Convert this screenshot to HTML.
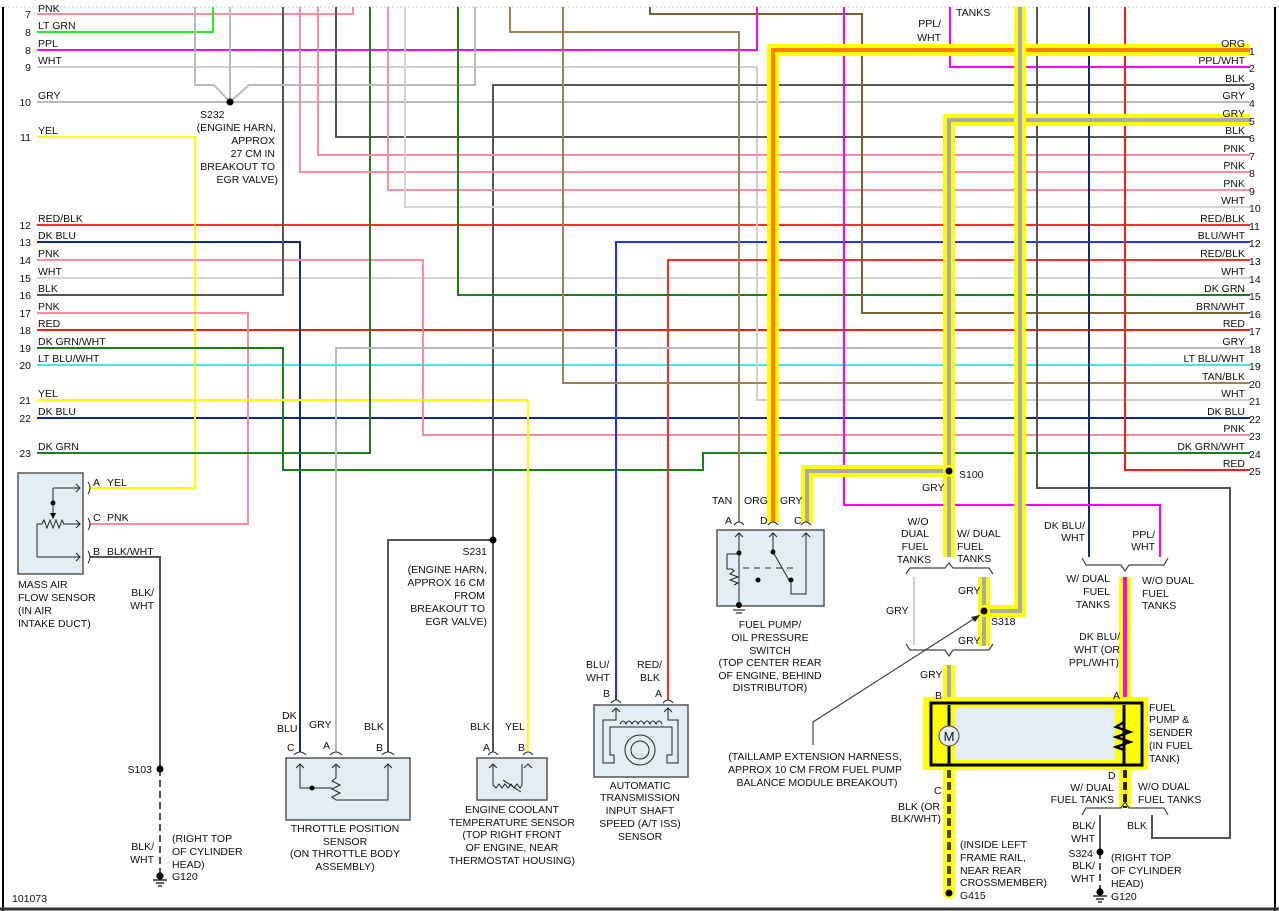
<!DOCTYPE html>
<html><head><meta charset="utf-8"><style>
html,body{margin:0;padding:0;background:#fff;}
svg{display:block;}
text{font-family:"Liberation Sans",sans-serif;font-size:10.5px;fill:#111;}
.e{text-anchor:end}.m{text-anchor:middle}
</style></head><body>
<svg width="1279" height="911" viewBox="0 0 1279 911" xmlns="http://www.w3.org/2000/svg">
<rect width="1279" height="911" fill="#fff"/>
<line x1="0" y1="7" x2="1279" y2="7" stroke="#ccc" stroke-dasharray="2,2"/>
<line x1="3" y1="7" x2="3" y2="911" stroke="#000" stroke-width="2"/>
<line x1="1275" y1="7" x2="1275" y2="911" stroke="#000" stroke-width="2"/>
<line x1="0" y1="909" x2="1279" y2="909" stroke="#333" stroke-width="3"/>
<g fill="none" stroke-width="2">
<path d="M37 102H1250" stroke="#bbb"/>
<path d="M37 225H1250" stroke="#ff2a2a"/>
<path d="M37 278H1250" stroke="#d4d4d4"/>
<path d="M37 330H1250" stroke="#ff1a1a"/>
<path d="M37 365H1250" stroke="#40e8f0"/>
<path d="M37 418H1250" stroke="#102a80"/>
<path d="M37 14H353V7" stroke="#f98ca0"/>
<path d="M37 32H213V7" stroke="#22ee22"/>
<path d="M37 50H757V7" stroke="#ff00ff"/>
<path d="M37 67H757V400H1250" stroke="#d0d0d0"/>
<path d="M37 137H195V488H90" stroke="#ffff00"/>
<path d="M37 242H300V752" stroke="#102a80"/>
<path d="M37 260H423V435H1250" stroke="#f98ca0"/>
<path d="M37 295H283V7" stroke="#555"/>
<path d="M37 313H248V524H90" stroke="#f98ca0"/>
<path d="M37 348H283V470H703V453H1250" stroke="#1a801a"/>
<path d="M37 400H528V752" stroke="#ffff00"/>
<path d="M37 453H370V7" stroke="#1a801a"/>
<path d="M195 7V85H214L230 102" stroke="#bbb"/>
<path d="M230 7V102" stroke="#bbb"/>
<path d="M230 102L249 85H475V7" stroke="#bbb"/>
<path d="M950 7V67H1250" stroke="#ff00ff"/>
<path d="M493 752V85H1250" stroke="#555"/>
<path d="M336 7V137H1250" stroke="#555"/>
<path d="M318 7V155H1250" stroke="#f98ca0"/>
<path d="M300 7V172H1250" stroke="#f98ca0"/>
<path d="M388 7V190H1250" stroke="#f98ca0"/>
<path d="M405 7V207H1250" stroke="#d4d4d4"/>
<path d="M616 700V242H1250" stroke="#2030ff"/>
<path d="M668 700V260H1250" stroke="#ff2a2a"/>
<path d="M458 7V295H1250" stroke="#1a801a"/>
<path d="M650 7V14H862V313H1250" stroke="#806030"/>
<path d="M336 752V348H1250" stroke="#bbb"/>
<path d="M563 7V383H1250" stroke="#a08050"/>
<path d="M510 7V32H739V522" stroke="#a08050"/>
<path d="M1125 7V470H1250" stroke="#ff1a1a"/>
<path d="M1037 7V488H1230V838H1152V815" stroke="#555"/>
<path d="M1089 7V557" stroke="#102a80"/>
<path d="M844 7V505H1160V557" stroke="#ff00ff"/>
<path d="M90 557H160V769" stroke="#555"/>
<path d="M160 769V875" stroke="#555" stroke-dasharray="7,4"/>
<path d="M493 540H388V752" stroke="#555"/>
<path d="M914 577V645" stroke="#ccc"/>
<path d="M1100 815V850" stroke="#555"/>
<path d="M1100 852V890" stroke="#555" stroke-dasharray="7,4"/>
</g>
<g fill="none">
<path d="M773 522V50H1250" stroke="#ffff00" stroke-width="12"/>
<path d="M773 522V50H1250" stroke="#ff8000" stroke-width="4"/>
<path d="M1250 120H949V557M949 471H807V522" stroke="#ffff00" stroke-width="12"/>
<path d="M1250 120H949V557M949 471H807V522" stroke="#aaa" stroke-width="4"/>
<path d="M1020 7V611H984" stroke="#ffff00" stroke-width="12"/>
<path d="M1020 7V611H984" stroke="#aaa" stroke-width="4"/>
<path d="M984 577V646" stroke="#ffff00" stroke-width="12"/>
<path d="M984 577V646" stroke="#aaa" stroke-width="4"/>
<path d="M949 665V700" stroke="#ffff00" stroke-width="12"/>
<path d="M949 665V700" stroke="#aaa" stroke-width="4"/>
<path d="M1125 577V700" stroke="#ffff00" stroke-width="12"/>
<path d="M1125 577V700" stroke="#ff00ff" stroke-width="4"/>
<path d="M949 770V893" stroke="#ffff00" stroke-width="12"/>
<path d="M949 770V893" stroke="#444" stroke-width="4" stroke-dasharray="8,4"/>
<path d="M1125 770V808" stroke="#ffff00" stroke-width="12"/>
<path d="M1125 770V808" stroke="#222" stroke-width="4" stroke-dasharray="8,4"/>
</g>
<g fill="none" stroke="#444" stroke-width="1.2">
<path d="M906 574L910 568H945L949 563L953 568H989L993 574"/>
<path d="M906 644L910 650H945L949 656L953 650H989L993 644"/>
<path d="M1082 558L1086 565H1121L1125 571L1129 565H1164L1168 558"/>
<path d="M1082 815L1086 808H1121L1125 802L1129 808H1164L1168 815"/>
<path d="M980 615L813 722V745"/>
</g>
<path d="M980 615l-9 2 4 5z" fill="#222"/>
<g fill="#000">
<circle cx="230" cy="102" r="3.5"/><circle cx="493" cy="540" r="3.5"/>
<circle cx="160" cy="769" r="3.5"/><circle cx="1100" cy="852" r="3.5"/>
</g>
<circle cx="949" cy="471" r="6" fill="#ffff00"/><circle cx="949" cy="471" r="3.5" fill="#000"/>
<circle cx="984" cy="611" r="6" fill="#ffff00"/><circle cx="984" cy="611" r="3.5" fill="#000"/>
<circle cx="949" cy="893" r="6" fill="#ffff00"/><circle cx="949" cy="893" r="3.5" fill="#000"/>
<g stroke="#000" stroke-width="1.2">
<circle cx="160" cy="876" r="3" fill="#000"/><path d="M153 880h14M156 883h8M158 886h4"/>
<circle cx="1100" cy="892" r="3" fill="#000"/><path d="M1093 896h14M1096 899h8M1098 902h4"/>
</g>
<rect x="18" y="473" width="65" height="101" fill="#e2edf6" stroke="#555" stroke-width="1.5"/>
<g fill="none" stroke="#222" stroke-width="1">
<path d="M53 488H80M76 484l4 4-4 4M53 488V510M53 503V515"/>
<path d="M37 557V524h5l2-4 3 8 3-8 3 8 3-8 3 8 3-8 2 4H80M76 520l4 4-4 4"/>
<path d="M37 557H80M76 553l4 4-4 4"/>
<path d="M88 482q4 6 0 12M88 518q4 6 0 12M88 551q4 6 0 12"/>
</g>
<circle cx="53" cy="503" r="2.5" fill="#000"/><path d="M50 513l3 6 3-6z" fill="#000"/>
<rect x="286" y="758" width="124" height="62" fill="#e2edf6" stroke="#555" stroke-width="1.5"/>
<g fill="none" stroke="#222" stroke-width="1">
<path d="M300 764V788H332M336 764V778l-4 3 8 4-8 4 8 4-8 4 4 3H388V764"/>
<path d="M296 768l4-4 4 4M332 768l4-4 4 4M384 768l4-4 4 4"/>
<path d="M294 755q6-6 12 0M330 755q6-6 12 0M382 755q6-6 12 0"/>
<path d="M488 755q5-6 10 0M523 755q5-6 10 0M611 703q5-6 10 0M663 703q5-6 10 0"/>
<path d="M734 525q5-6 10 0M768 525q5-6 10 0M801 525q5-6 10 0"/>
</g>
<circle cx="312" cy="788" r="2.5" fill="#000"/>
<rect x="477" y="758" width="70" height="42" fill="#e2edf6" stroke="#555" stroke-width="1.5"/>
<path d="M493 764V785l3 3 3-4 3 4 3-4 3 4 3-4 3 4 3-4 3 4 2-3V764M489 768l4-4 4 4M524 768l4-4 4 4M503 780l18 12" fill="none" stroke="#222"/>
<rect x="594" y="705" width="94" height="72" fill="#e2edf6" stroke="#555" stroke-width="1.5"/>
<g fill="none" stroke="#222" stroke-width="1">
<path d="M616 708V720H603V763H614V755H610V727H672V755H667V763H678V720H668V708M612 712l4-4 4 4M664 712l4-4 4 4"/>
<path d="M620 724q3-6 6 0q3-6 6 0q3-6 6 0q3-6 6 0q3-6 6 0q3-6 6 0q3-6 6 0"/>
<circle cx="640" cy="750" r="15"/><circle cx="640" cy="750" r="9"/>
</g>
<rect x="717" y="530" width="107" height="76" fill="#e2edf6" stroke="#555" stroke-width="1.5"/>
<g fill="none" stroke="#222" stroke-width="1">
<path d="M739 533V606M735 537l4-4 4 4M727 554H739M727 554V569H732l2 2-4 3 8 3-8 3 8 3-4 2M773 533V552l16 28M769 537l4-4 4 4M806 533V594H791V580M802 537l4-4 4 4"/>
<path d="M743 568h50" stroke-dasharray="6,5"/>
</g>
<g fill="#000"><circle cx="739" cy="553" r="2.5"/><circle cx="773" cy="552" r="2.5"/><circle cx="758" cy="580" r="2.5"/><circle cx="791" cy="580" r="2.5"/><circle cx="739" cy="605" r="3"/></g>
<path d="M733 610h12M736 613h6" stroke="#000"/>
<rect x="923" y="697" width="225" height="73" fill="#ffff00"/>
<rect x="931" y="703" width="211" height="62" fill="#ffff00" stroke="#000" stroke-width="3"/>
<rect x="955" y="708" width="160" height="52" fill="#e2edf6"/>
<path d="M949 705V765M1124 705V765" stroke="#000" stroke-width="3"/>
<circle cx="949" cy="736" r="10" fill="#e2edf6" stroke="#444"/>
<text x="949" y="741" class="m" style="font-size:13px">M</text>
<path d="M1124 722l-8 5 14 5-14 5 14 5-14 5 8 3" fill="none" stroke="#000" stroke-width="2.5"/>
<g>
<text x="31" y="36" class="e">8</text><text x="31" y="54" class="e">8</text><text x="31" y="71" class="e">9</text>
<text x="31" y="106" class="e">10</text><text x="31" y="141" class="e">11</text><text x="31" y="229" class="e">12</text>
<text x="31" y="246" class="e">13</text><text x="31" y="264" class="e">14</text><text x="31" y="282" class="e">15</text>
<text x="31" y="299" class="e">16</text><text x="31" y="317" class="e">17</text><text x="31" y="334" class="e">18</text>
<text x="31" y="352" class="e">19</text><text x="31" y="369" class="e">20</text><text x="31" y="404" class="e">21</text>
<text x="31" y="422" class="e">22</text><text x="31" y="457" class="e">23</text><text x="31" y="18" class="e">7</text>
</g>
<text x="38" y="12">PNK</text><text x="38" y="29">LT GRN</text><text x="38" y="47">PPL</text><text x="38" y="64">WHT</text>
<text x="38" y="99">GRY</text><text x="38" y="134">YEL</text><text x="38" y="222">RED/BLK</text><text x="38" y="239">DK BLU</text>
<text x="38" y="257">PNK</text><text x="38" y="275">WHT</text><text x="38" y="292">BLK</text><text x="38" y="310">PNK</text>
<text x="38" y="327">RED</text><text x="38" y="345">DK GRN/WHT</text><text x="38" y="362">LT BLU/WHT</text>
<text x="38" y="397">YEL</text><text x="38" y="415">DK BLU</text><text x="38" y="450">DK GRN</text>
<g>
<text x="1245" y="47" class="e">ORG</text><text x="1245" y="64" class="e">PPL/WHT</text><text x="1245" y="82" class="e">BLK</text>
<text x="1245" y="99" class="e">GRY</text><text x="1245" y="117" class="e">GRY</text><text x="1245" y="134" class="e">BLK</text>
<text x="1245" y="152" class="e">PNK</text><text x="1245" y="169" class="e">PNK</text><text x="1245" y="187" class="e">PNK</text>
<text x="1245" y="204" class="e">WHT</text><text x="1245" y="222" class="e">RED/BLK</text><text x="1245" y="239" class="e">BLU/WHT</text>
<text x="1245" y="257" class="e">RED/BLK</text><text x="1245" y="275" class="e">WHT</text><text x="1245" y="292" class="e">DK GRN</text>
<text x="1245" y="310" class="e">BRN/WHT</text><text x="1245" y="327" class="e">RED</text><text x="1245" y="345" class="e">GRY</text>
<text x="1245" y="362" class="e">LT BLU/WHT</text><text x="1245" y="380" class="e">TAN/BLK</text><text x="1245" y="397" class="e">WHT</text>
<text x="1245" y="415" class="e">DK BLU</text><text x="1245" y="432" class="e">PNK</text><text x="1245" y="450" class="e">DK GRN/WHT</text>
<text x="1245" y="467" class="e">RED</text>
</g>
<g>
<text x="1249" y="55">1</text><text x="1249" y="72">2</text><text x="1249" y="90">3</text><text x="1249" y="107">4</text>
<text x="1249" y="125">5</text><text x="1249" y="142">6</text><text x="1249" y="160">7</text><text x="1249" y="177">8</text>
<text x="1249" y="195">9</text><text x="1249" y="212">10</text><text x="1249" y="230">11</text><text x="1249" y="247">12</text>
<text x="1249" y="265">13</text><text x="1249" y="283">14</text><text x="1249" y="300">15</text><text x="1249" y="318">16</text>
<text x="1249" y="335">17</text><text x="1249" y="353">18</text><text x="1249" y="370">19</text><text x="1249" y="388">20</text>
<text x="1249" y="405">21</text><text x="1249" y="423">22</text><text x="1249" y="440">23</text><text x="1249" y="458">24</text>
<text x="1249" y="475">25</text>
</g>
<text x="941" y="27" class="e">PPL/</text><text x="941" y="41" class="e">WHT</text><text x="956" y="16">TANKS</text>
<text x="200" y="118">S232</text>
<text x="276" y="131" class="e">(ENGINE HARN,</text><text x="275" y="144" class="e">APPROX</text><text x="275" y="157" class="e">27 CM IN</text>
<text x="275" y="170" class="e">BREAKOUT TO</text><text x="278" y="183" class="e">EGR VALVE)</text>
<text x="93" y="486">A</text><text x="107" y="486">YEL</text><text x="93" y="521">C</text><text x="107" y="521">PNK</text>
<text x="93" y="555">B</text><text x="107" y="555">BLK/WHT</text>
<text x="18" y="588">MASS AIR</text><text x="18" y="601">FLOW SENSOR</text><text x="18" y="614">(IN AIR</text><text x="18" y="627">INTAKE DUCT)</text>
<text x="154" y="596" class="e">BLK/</text><text x="154" y="609" class="e">WHT</text>
<text x="152" y="773" class="e">S103</text>
<text x="154" y="850" class="e">BLK/</text><text x="154" y="863" class="e">WHT</text>
<text x="172" y="842">(RIGHT TOP</text><text x="172" y="855">OF CYLINDER</text><text x="172" y="868">HEAD)</text><text x="172" y="880">G120</text>
<text x="12" y="902">101073</text>
<text x="487" y="555" class="e">S231</text><text x="487" y="573" class="e">(ENGINE HARN,</text><text x="485" y="586" class="e">APPROX 16 CM</text>
<text x="485" y="599" class="e">FROM</text><text x="485" y="612" class="e">BREAKOUT TO</text><text x="487" y="625" class="e">EGR VALVE)</text>
<text x="282" y="719">DK</text><text x="277" y="732">BLU</text><text x="309" y="728">GRY</text><text x="364" y="730">BLK</text>
<text x="287" y="751">C</text><text x="323" y="749">A</text><text x="376" y="751">B</text>
<text x="345" y="832" class="m">THROTTLE POSITION</text><text x="345" y="845" class="m">SENSOR</text>
<text x="345" y="857" class="m">(ON THROTTLE BODY</text><text x="345" y="870" class="m">ASSEMBLY)</text>
<text x="470" y="730">BLK</text><text x="505" y="730">YEL</text><text x="483" y="751">A</text><text x="518" y="751">B</text>
<text x="512" y="813" class="m">ENGINE COOLANT</text><text x="512" y="826" class="m">TEMPERATURE SENSOR</text>
<text x="512" y="838" class="m">(TOP RIGHT FRONT</text><text x="512" y="851" class="m">OF ENGINE, NEAR</text><text x="512" y="864" class="m">THERMOSTAT HOUSING)</text>
<text x="586" y="668">BLU/</text><text x="586" y="681">WHT</text><text x="637" y="668">RED/</text><text x="640" y="681">BLK</text>
<text x="603" y="697">B</text><text x="655" y="697">A</text>
<text x="640" y="789" class="m">AUTOMATIC</text><text x="640" y="801" class="m">TRANSMISSION</text><text x="640" y="814" class="m">INPUT SHAFT</text>
<text x="640" y="827" class="m">SPEED (A/T ISS)</text><text x="640" y="840" class="m">SENSOR</text>
<text x="712" y="504">TAN</text><text x="744" y="504">ORG</text><text x="780" y="504">GRY</text>
<text x="725" y="524">A</text><text x="760" y="524">D</text><text x="794" y="524">C</text>
<text x="770" y="628" class="m">FUEL PUMP/</text><text x="770" y="641" class="m">OIL PRESSURE</text><text x="770" y="654" class="m">SWITCH</text>
<text x="770" y="666" class="m">(TOP CENTER REAR</text><text x="770" y="679" class="m">OF ENGINE, BEHIND</text><text x="770" y="691" class="m">DISTRIBUTOR)</text>
<text x="959" y="478">S100</text><text x="922" y="491">GRY</text>
<text x="918" y="525" class="m">W/O</text><text x="915" y="537" class="m">DUAL</text><text x="915" y="550" class="m">FUEL</text><text x="914" y="563" class="m">TANKS</text>
<text x="957" y="537">W/ DUAL</text><text x="957" y="550">FUEL</text><text x="957" y="562">TANKS</text>
<text x="958" y="594">GRY</text><text x="886" y="614">GRY</text><text x="991" y="625">S318</text><text x="958" y="644">GRY</text>
<text x="920" y="678">GRY</text><text x="935" y="699">B</text>
<text x="815" y="760" class="m">(TAILLAMP EXTENSION HARNESS,</text><text x="815" y="773" class="m">APPROX 10 CM FROM FUEL PUMP</text>
<text x="817" y="786" class="m">BALANCE MODULE BREAKOUT)</text>
<text x="934" y="794">C</text><text x="940" y="810" class="e">BLK (OR</text><text x="941" y="822" class="e">BLK/WHT)</text>
<text x="960" y="848">(INSIDE LEFT</text><text x="960" y="861">FRAME RAIL,</text><text x="960" y="874">NEAR REAR</text><text x="960" y="886">CROSSMEMBER)</text>
<text x="960" y="899">G415</text>
<text x="1085" y="529" class="e">DK BLU/</text><text x="1085" y="541" class="e">WHT</text>
<text x="1155" y="538" class="e">PPL/</text><text x="1155" y="550" class="e">WHT</text>
<text x="1110" y="582" class="e">W/ DUAL</text><text x="1110" y="595" class="e">FUEL</text><text x="1110" y="608" class="e">TANKS</text>
<text x="1142" y="584">W/O DUAL</text><text x="1142" y="597">FUEL</text><text x="1142" y="609">TANKS</text>
<text x="1120" y="640" class="e">DK BLU/</text><text x="1120" y="653" class="e">WHT (OR</text><text x="1119" y="666" class="e">PPL/WHT)</text>
<text x="1113" y="699">A</text>
<text x="1149" y="711">FUEL</text><text x="1149" y="723">PUMP &amp;</text><text x="1149" y="736">SENDER</text><text x="1149" y="749">(IN FUEL</text><text x="1149" y="762">TANK)</text>
<text x="1108" y="779">D</text>
<text x="1114" y="791" class="e">W/ DUAL</text><text x="1114" y="803" class="e">FUEL TANKS</text>
<text x="1138" y="790">W/O DUAL</text><text x="1138" y="803">FUEL TANKS</text>
<text x="1095" y="829" class="e">BLK/</text><text x="1095" y="842" class="e">WHT</text><text x="1127" y="829">BLK</text>
<text x="1093" y="857" class="e">S324</text><text x="1095" y="869" class="e">BLK/</text><text x="1095" y="882" class="e">WHT</text>
<text x="1111" y="861">(RIGHT TOP</text><text x="1111" y="874">OF CYLINDER</text><text x="1111" y="887">HEAD)</text><text x="1111" y="900">G120</text>
</svg>
</body></html>
